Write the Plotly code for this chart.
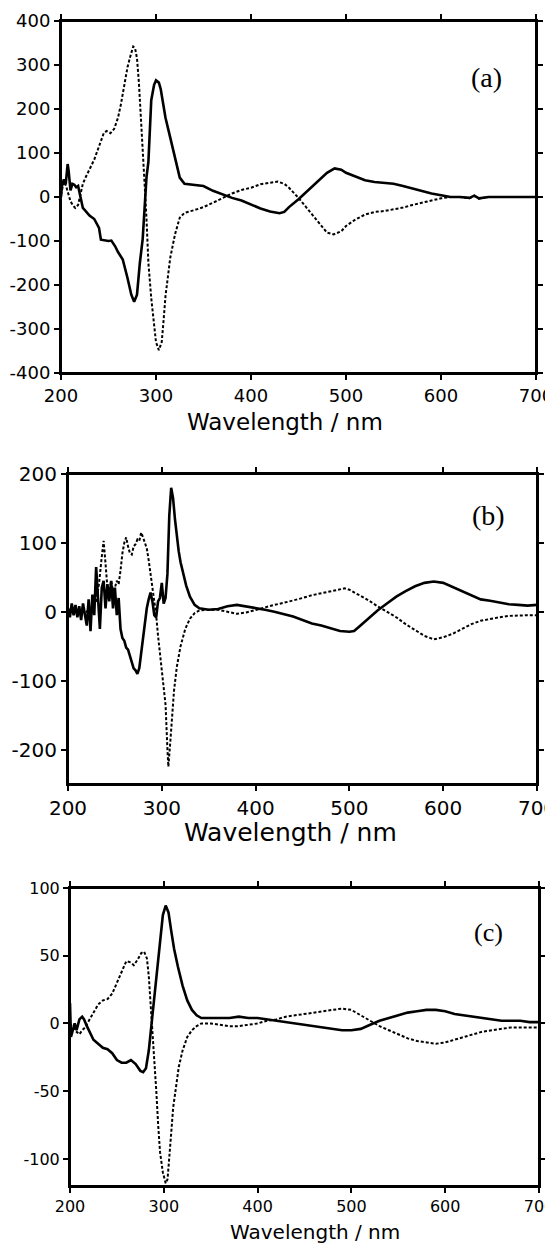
import plotly.graph_objects as go

# ---------------- data ----------------
# Panel (a)
a_solid_x = [200,201,203,205,207,208,210,212,214,216,218,220,223,226,230,235,240,242,245,250,253,257,260,265,270,274,277,280,283,286,290,292,295,298,300,303,305,308,310,315,320,325,330,340,350,360,370,380,390,400,410,420,430,435,440,450,460,470,480,488,495,500,510,520,530,540,550,560,570,580,590,600,610,620,630,635,640,650,660,670,680,690,700]
a_solid_y = [0,25,40,30,75,60,15,30,28,22,25,5,-25,-32,-42,-50,-70,-97,-98,-100,-99,-112,-125,-142,-184,-222,-238,-222,-150,-95,45,80,220,255,265,260,245,205,180,135,90,44,30,27,25,14,6,-2,-8,-17,-26,-33,-37,-34,-23,-5,15,37,55,65,62,55,46,38,34,32,30,25,19,14,8,4,0,0,-2,3,-3,0,0,0,0,0,0]
a_dash_x = [200,202,204,206,208,210,213,215,218,220,223,226,230,235,240,245,248,252,256,260,263,266,270,273,276,278,280,282,284,286,288,290,292,295,298,300,303,306,308,310,315,320,325,330,340,350,360,370,380,390,400,410,420,428,435,440,450,460,470,480,487,495,500,510,520,530,540,550,560,570,580,590,600,610,620,630,635,640,650,660,670,680,690,700]
a_dash_y = [5,25,35,20,5,-10,-20,-25,-18,0,30,45,62,85,115,145,150,145,155,180,210,250,295,320,342,338,315,260,190,110,30,-50,-150,-230,-300,-330,-348,-330,-280,-225,-138,-85,-47,-36,-30,-23,-13,-3,8,16,21,29,33,35,30,21,-2,-28,-55,-81,-85,-78,-66,-51,-40,-34,-32,-28,-24,-18,-13,-8,-3,0,0,-3,3,-4,0,0,0,0,0,0]

# Panel (b)
b_solid_x = [200,202,204,206,208,210,212,214,216,218,220,222,224,226,228,230,232,234,236,238,240,242,244,246,248,250,252,254,256,258,260,262,264,266,268,270,272,274,276,278,280,282,284,286,288,290,292,294,296,298,300,302,304,306,308,310,312,314,316,318,320,323,326,330,335,340,350,360,370,380,390,400,410,420,430,440,450,460,470,480,490,500,505,510,520,530,540,550,560,570,580,590,600,610,620,630,640,650,660,670,680,690,700]
b_solid_y = [5,-8,12,-5,10,-8,8,-12,12,-5,-20,18,-28,25,-5,65,15,-25,35,45,5,40,15,45,5,35,-5,20,-25,-38,-42,-52,-55,-65,-72,-82,-85,-90,-82,-60,-38,-15,5,18,28,15,-5,-8,15,20,42,12,20,55,140,180,165,135,108,88,72,55,38,22,10,5,3,4,8,10,8,5,3,0,-3,-7,-12,-17,-20,-24,-28,-29,-28,-22,-10,2,12,22,30,37,42,44,42,36,30,24,18,16,13,11,10,9,10]
b_dash_x = [200,205,210,215,220,225,230,233,236,238,240,242,244,246,248,250,252,254,256,258,260,262,264,266,268,270,272,274,276,278,280,282,284,286,288,290,292,294,296,298,300,302,304,306,307,309,311,313,316,320,325,330,335,340,350,360,370,380,390,400,410,420,430,440,450,460,470,480,490,495,500,510,520,530,540,550,560,570,580,590,600,610,620,630,640,650,660,670,680,690,700]
b_dash_y = [0,5,-3,5,0,5,15,40,80,103,70,35,25,45,30,35,45,40,60,85,100,108,95,85,83,95,98,105,103,115,108,100,92,75,55,40,20,-5,-35,-60,-90,-120,-135,-200,-225,-190,-150,-115,-80,-50,-25,-10,-2,2,3,3,0,-3,-1,3,7,10,13,16,20,24,27,30,33,34,32,25,17,8,0,-8,-18,-27,-35,-40,-37,-32,-25,-18,-13,-10,-8,-6,-5,-5,-5]

# Panel (c)
c_solid_x = [200,201,203,205,207,210,213,215,218,220,222,225,230,235,240,245,250,255,260,265,270,275,278,281,284,287,290,293,296,299,302,305,308,311,315,320,325,330,335,340,350,360,370,380,390,400,410,420,430,440,450,460,470,480,490,500,510,520,530,540,550,560,570,580,590,600,610,620,630,640,650,660,670,680,690,700]
c_solid_y = [15,-10,-5,0,-5,3,5,3,-2,-5,-8,-12,-15,-18,-19,-22,-27,-29,-29,-27,-30,-35,-36,-33,-20,0,20,45,65,80,87,82,68,55,42,28,17,10,6,4,4,4,4,5,4,4,3,2,1,0,-1,-2,-3,-4,-5,-5,-4,-1,2,4,6,8,9,10,10,9,7,6,5,4,3,2,2,2,1,1]
c_dash_x = [200,205,210,213,216,220,225,230,235,240,245,250,255,260,265,268,272,276,279,282,284,286,288,290,292,294,296,299,302,304,306,308,310,313,316,320,325,330,335,340,350,360,370,380,390,400,410,420,430,440,450,460,470,480,490,500,510,520,530,540,550,560,570,580,590,600,610,620,630,640,650,660,670,680,690,700]
c_dash_y = [0,-5,-8,-5,-3,2,8,14,17,18,22,30,38,46,45,43,47,52,53,48,35,15,-5,-25,-50,-75,-95,-110,-118,-115,-100,-80,-62,-45,-32,-20,-10,-5,-2,0,0,-1,-2,-2,-1,0,2,3,5,6,7,8,9,10,11,10,6,2,-2,-5,-8,-11,-13,-14,-15,-14,-12,-10,-8,-6,-5,-4,-3,-3,-3,-3]

x_ticks = [200, 300, 400, 500, 600, 700]
x_ticktext = ["200", "300", "400", "500", "600", "700"]
a_yticks = [-400, -300, -200, -100, 0, 100, 200, 300, 400]
a_yticktext = ["-400", "-300", "-200", "-100", "0", "100", "200", "300", "400"]
b_yticks = [-200, -100, 0, 100, 200]
b_yticktext = ["-200", "-100", "0", "100", "200"]
c_yticks = [-100, -50, 0, 50, 100]
c_yticktext = ["-100", "-50", "0", "50", "100"]

panel_labels = ["(a)", "(b)", "(c)"]
axis_title = "Wavelength / nm"

# ---------------- figure ----------------
# The page body has an 8px default margin; shrink the figure so that it
# fills the 553x1243 window exactly and convert window pixels to paper units.
OFF = 8
W, H = 553 - OFF, 1243 - OFF
fig = go.Figure()

def px_x(p):
    return (p - OFF) / W

def px_y(p):
    return 1 - (p - OFF) / H

panels = [
    dict(sx=a_solid_x, sy=a_solid_y, dx=a_dash_x, dy=a_dash_y, xa="x", ya="y"),
    dict(sx=b_solid_x, sy=b_solid_y, dx=b_dash_x, dy=b_dash_y, xa="x2", ya="y2"),
    dict(sx=c_solid_x, sy=c_solid_y, dx=c_dash_x, dy=c_dash_y, xa="x3", ya="y3"),
]
for p in panels:
    fig.add_trace(go.Scatter(x=p["dx"], y=p["dy"], mode="lines", xaxis=p["xa"], yaxis=p["ya"],
                             line=dict(color="black", width=2, dash="3px,2px"), showlegend=False))
    fig.add_trace(go.Scatter(x=p["sx"], y=p["sy"], mode="lines", xaxis=p["xa"], yaxis=p["ya"],
                             line=dict(color="black", width=2.6), showlegend=False))

font_family = "DejaVu Sans"

def xax(dom, anchor, fsize):
    return dict(domain=dom, anchor=anchor, range=[200, 700], tickvals=x_ticks, ticktext=x_ticktext,
                showline=True, linecolor="black", linewidth=2, mirror="ticks",
                ticks="outside", ticklen=5, tickwidth=2, tickcolor="black",
                showgrid=False, zeroline=False, automargin=False, ticklabeloverflow="allow",
                tickfont=dict(family=font_family, size=fsize, color="black"))

def yax(dom, anchor, rng, tv, tt, fsize):
    return dict(domain=dom, anchor=anchor, range=rng, tickvals=tv, ticktext=tt,
                showline=True, linecolor="black", linewidth=2, mirror="ticks",
                ticks="outside", ticklen=5, tickwidth=2, tickcolor="black",
                showgrid=False, zeroline=False, automargin=False, ticklabeloverflow="allow",
                tickfont=dict(family=font_family, size=fsize, color="black"))

boxes = [(61, 536, 21, 373), (68, 537, 474, 784), (70, 539, 888, 1186)]

fig.update_layout(
    template="none",
    width=W, height=H, autosize=False,
    margin=dict(l=0, r=0, t=0, b=0, pad=0),
    paper_bgcolor="white", plot_bgcolor="white",
    xaxis=xax([px_x(boxes[0][0]), px_x(boxes[0][1])], "y", 18),
    yaxis=yax([px_y(boxes[0][3]), px_y(boxes[0][2])], "x", [-400, 400], a_yticks, a_yticktext, 18),
    xaxis2=xax([px_x(boxes[1][0]), px_x(boxes[1][1])], "y2", 20),
    yaxis2=yax([px_y(boxes[1][3]), px_y(boxes[1][2])], "x2", [-250, 200], b_yticks, b_yticktext, 20),
    xaxis3=xax([px_x(boxes[2][0]), px_x(boxes[2][1])], "y3", 16),
    yaxis3=yax([px_y(boxes[2][3]), px_y(boxes[2][2])], "x3", [-120, 100], c_yticks, c_yticktext, 16),
)

# explicit frames around each plot area
for (x0, x1, y0, y1) in boxes:
    fig.add_shape(type="rect", xref="paper", yref="paper",
                  x0=px_x(x0), x1=px_x(x1), y0=px_y(y1), y1=px_y(y0),
                  line=dict(color="black", width=2), fillcolor="rgba(0,0,0,0)", layer="above")

# axis titles
titles = [(285, 422, 23), (290, 832, 25), (315, 1232, 20)]
for (cx, cy, fs) in titles:
    fig.add_annotation(text=axis_title, x=px_x(cx), y=px_y(cy), xref="paper", yref="paper",
                       showarrow=False, xanchor="center", yanchor="middle",
                       font=dict(family=font_family, size=fs, color="black"))

# panel labels
labels_pos = [(486, 77, 28), (488, 516, 28), (488, 932, 26)]
for lab, (cx, cy, fs) in zip(panel_labels, labels_pos):
    fig.add_annotation(text=lab, x=px_x(cx), y=px_y(cy), xref="paper", yref="paper",
                       showarrow=False, xanchor="center", yanchor="middle",
                       font=dict(family="Liberation Serif", size=fs, color="black"))

fig.write_html("out.html")
